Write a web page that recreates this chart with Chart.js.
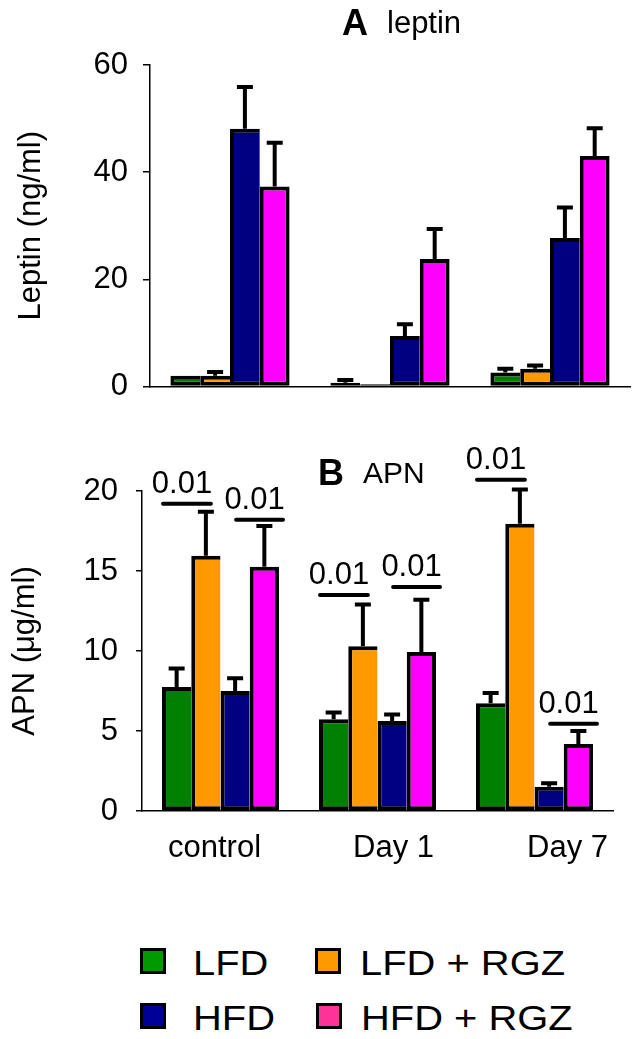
<!DOCTYPE html>
<html>
<head>
<meta charset="utf-8">
<script src="https://cdn.jsdelivr.net/npm/chart.js@4.4.0/dist/chart.umd.min.js"></script>
<style>
    body { margin: 0; background: #fff; width: 640px; height: 1039px; position: relative; overflow: hidden; font-family: 'Liberation Sans', Arial, sans-serif; }
    #chartA { position: absolute; left: 0; top: 0; }
    #chartB { position: absolute; left: 0; top: 420px; }
    .box { position: absolute; width: 26px; height: 26px; box-sizing: border-box; border: 3px solid #000; }
    .txt { position: absolute; font-size: 35px; line-height: 35px; transform: scaleX(1.14); transform-origin: left center; white-space: nowrap; color: #000; }
</style>
</head>
<body>
<canvas id="chartA" width="640" height="420"></canvas>
<canvas id="chartB" width="640" height="480"></canvas>
<div id="legend"></div>
<script>
// Datos
const groups = ['control', 'Day 1', 'Day 7'];
const seriesNames = ['LFD', 'LFD + RGZ', 'HFD', 'HFD + RGZ'];
const barColors = ['#008000', '#FF9900', '#000080', '#FF00FF'];
const legendColors = ['#009900', '#FF9900', '#000099', '#FF3399'];

// A leptin (ng/ml)
const leptinLFD = [2.0, 0.7, 2.6];
const leptinLFDRGZ = [2.0, 0.4, 3.3];
const leptinHFD = [48.1, 9.4, 27.7];
const leptinHFDRGZ = [37.3, 23.8, 43.0];
const leptinLFDErr = [0, 0.5, 0.7];
const leptinLFDRGZErr = [0.7, 0, 0.6];
const leptinHFDErr = [7.8, 2.2, 5.7];
const leptinHFDRGZErr = [8.2, 5.6, 5.2];
const leptinTicks = [0, 20, 40, 60];

// B APN (ug/ml)
const apnLFD = [7.75, 5.74, 6.74];
const apnLFDRGZ = [15.95, 10.3, 17.95];
const apnHFD = [7.5, 5.63, 1.52];
const apnHFDRGZ = [15.26, 9.94, 4.18];
const apnLFDErr = [1.15, 0.41, 0.63];
const apnLFDRGZErr = [2.75, 2.6, 2.15];
const apnHFDErr = [0.8, 0.4, 0.21];
const apnHFDRGZErr = [2.55, 3.26, 0.82];
const apnTicks = [0, 5, 10, 15, 20];

// Marcas de significancia (grupo, par de barras, nivel, texto)
const sigGroup = [0, 0, 1, 1, 2, 2];
const sigPair = [0, 1, 0, 1, 0, 1];
const sigLevel = [19.2, 18.2, 13.5, 14.0, 20.7, 5.45];
const sigText = ['0.01', '0.01', '0.01', '0.01', '0.01', '0.01'];

const FONT = "'Liberation Sans', Arial, sans-serif";
Chart.defaults.font.family = FONT;
Chart.defaults.color = '#000';

function makeDatasets(values, errors) {
    return values.map((v, i) => ({
        label: seriesNames[i],
        data: v,
        errors: errors[i],
        backgroundColor: barColors[i],
        borderColor: '#000',
        borderWidth: { top: 4, left: 4, bottom: 4, right: i === values.length - 1 ? 4 : 0 },
        borderSkipped: false,
        categoryPercentage: 0.745,
        barPercentage: 1
    }));
}

// Barras de error (solo hacia arriba)
const errorBars = {
    id: 'errorBars',
    afterDatasetsDraw(chart) {
        const ctx = chart.ctx;
        const y = chart.scales.y;
        ctx.save();
        ctx.strokeStyle = '#000';
        ctx.lineWidth = 4;
        chart.data.datasets.forEach((ds, i) => {
            chart.getDatasetMeta(i).data.forEach((bar, j) => {
                const e = ds.errors[j];
                if (!e) return;
                const top = y.getPixelForValue(ds.data[j]);
                const end = y.getPixelForValue(ds.data[j] + e);
                ctx.beginPath();
                ctx.moveTo(bar.x, top);
                ctx.lineTo(bar.x, end);
                ctx.moveTo(bar.x - 8, end);
                ctx.lineTo(bar.x + 8, end);
                ctx.stroke();
            });
        });
        ctx.restore();
    }
};

// Titulo del panel: letra en negrita + nombre
const panelTitle = {
    id: 'panelTitle',
    afterDraw(chart, args, opts) {
        const ctx = chart.ctx;
        ctx.save();
        ctx.fillStyle = '#000';
        ctx.textAlign = 'left';
        ctx.textBaseline = 'alphabetic';
        ctx.font = 'bold ' + opts.letterSize + 'px ' + FONT;
        ctx.fillText(opts.letter, opts.x, opts.y);
        ctx.font = opts.nameSize + 'px ' + FONT;
        ctx.fillText(opts.name, opts.nameX, opts.y - 2);
        ctx.restore();
    }
};

// Etiquetas de categoria (desplazadas como en el original)
const labelShift = [-6, 16, 33];
const groupLabels = {
    id: 'groupLabels',
    afterDraw(chart) {
        const ctx = chart.ctx;
        const x = chart.scales.x;
        const base = chart.scales.y.getPixelForValue(0);
        ctx.save();
        ctx.fillStyle = '#000';
        ctx.font = '31px ' + FONT;
        ctx.textAlign = 'center';
        ctx.textBaseline = 'alphabetic';
        groups.forEach((g, i) => {
            ctx.fillText(g, x.getPixelForValue(i) + labelShift[i], base + 46);
        });
        ctx.restore();
    }
};

// Lineas de p-valor
const sigMarks = {
    id: 'sigMarks',
    afterDatasetsDraw(chart) {
        const ctx = chart.ctx;
        const y = chart.scales.y;
        ctx.save();
        ctx.lineWidth = 4;
        ctx.lineCap = 'round';
        ctx.strokeStyle = '#000';
        ctx.fillStyle = '#000';
        ctx.font = '31px ' + FONT;
        ctx.textAlign = 'center';
        ctx.textBaseline = 'alphabetic';
        sigText.forEach((t, k) => {
            const a = chart.getDatasetMeta(sigPair[k] * 2).data[sigGroup[k]];
            const b = chart.getDatasetMeta(sigPair[k] * 2 + 1).data[sigGroup[k]];
            let x1, x2;
            if (sigPair[k] === 0) {
                x1 = a.x - a.width / 2 + 1;
                x2 = b.x + 5;
            } else {
                x1 = a.x + 1;
                x2 = b.x + b.width / 2 + 4;
            }
            const ly = y.getPixelForValue(sigLevel[k]);
            ctx.beginPath();
            ctx.moveTo(x1, ly);
            ctx.lineTo(x2, ly);
            ctx.stroke();
            ctx.fillText(t, (x1 + x2) / 2 - 5, ly - 11);
        });
        ctx.restore();
    }
};

function yAxis(ticks, title, width, tickLen, tickPad, titlePad) {
    return {
        min: ticks[0],
        max: ticks[ticks.length - 1],
        afterFit: s => { s.width = width; },
        afterBuildTicks: s => { s.ticks = ticks.map(v => ({ value: v })); },
        grid: { display: true, drawOnChartArea: false, drawTicks: true, tickLength: tickLen, color: '#000', lineWidth: 1.5 },
        border: { display: true, color: '#000', width: 1.5 },
        ticks: { padding: tickPad, font: { size: 31 }, color: '#000' },
        title: { display: true, text: title, font: { size: 31 }, color: '#000', padding: { top: titlePad, bottom: 0 } }
    };
}

function xAxis(height) {
    return {
        afterFit: s => { s.height = height; },
        grid: { display: false },
        border: { display: true, color: '#000', width: 1.5 },
        ticks: { display: false }
    };
}

// Grafica A - leptina
new Chart(document.getElementById('chartA'), {
    type: 'bar',
    data: {
        labels: groups,
        datasets: makeDatasets(
            [leptinLFD, leptinLFDRGZ, leptinHFD, leptinHFDRGZ],
            [leptinLFDErr, leptinLFDRGZErr, leptinHFDErr, leptinHFDRGZErr])
    },
    options: {
        responsive: false,
        animation: false,
        layout: { padding: { top: 65, right: 10, left: 0, bottom: 0 } },
        plugins: {
            legend: { display: false },
            tooltip: { enabled: false },
            panelTitle: { letter: 'A', name: 'leptin', letterSize: 36, nameSize: 31, x: 342, nameX: 387, y: 35 }
        },
        scales: {
            x: xAxis(30),
            y: yAxis(leptinTicks, 'Leptin (ng/ml)', 150, 7, 15, 13)
        }
    },
    plugins: [errorBars, panelTitle]
});

// Grafica B - adiponectina
new Chart(document.getElementById('chartB'), {
    type: 'bar',
    data: {
        labels: groups,
        datasets: makeDatasets(
            [apnLFD, apnLFDRGZ, apnHFD, apnHFDRGZ],
            [apnLFDErr, apnLFDRGZErr, apnHFDErr, apnHFDRGZErr])
    },
    options: {
        responsive: false,
        animation: false,
        layout: { padding: { top: 71, right: 27, left: 0, bottom: 0 } },
        plugins: {
            legend: { display: false },
            tooltip: { enabled: false },
            panelTitle: { letter: 'B', name: 'APN', letterSize: 36, nameSize: 30, x: 318, nameX: 363, y: 65 }
        },
        scales: {
            x: xAxis(89),
            y: yAxis(apnTicks, 'APN (\u03bcg/ml)', 142, 6, 18, 7)
        }
    },
    plugins: [errorBars, sigMarks, panelTitle, groupLabels]
});

// Leyenda
const legendBoxX = [140, 315, 140, 316];
const legendTextX = [193, 360, 193, 361];
const legendY = [948, 948, 1003, 1003];
const legend = document.getElementById('legend');
seriesNames.forEach((name, i) => {
    const box = document.createElement('div');
    box.className = 'box';
    box.style.left = legendBoxX[i] + 'px';
    box.style.top = legendY[i] + 'px';
    box.style.background = legendColors[i];
    legend.appendChild(box);
    const txt = document.createElement('div');
    txt.className = 'txt';
    txt.textContent = name;
    txt.style.left = legendTextX[i] + 'px';
    txt.style.top = (legendY[i] - 3) + 'px';
    legend.appendChild(txt);
});
</script>
</body>
</html>
